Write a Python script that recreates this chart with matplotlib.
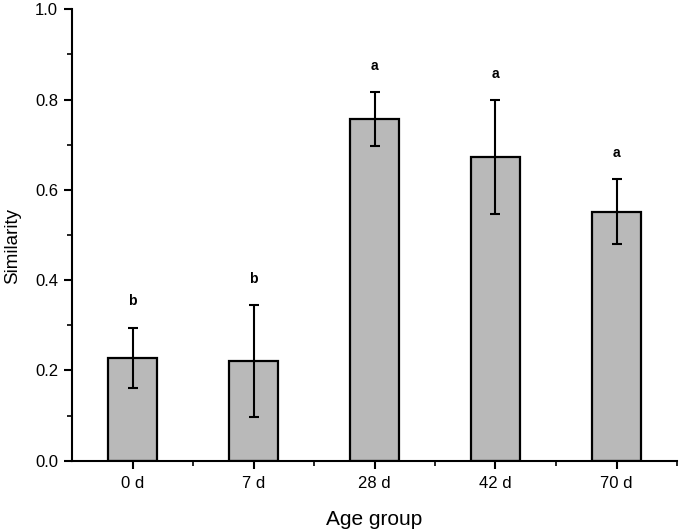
import matplotlib
matplotlib.use("Agg")
import matplotlib.pyplot as plt
from matplotlib.ticker import MultipleLocator, FixedLocator, FormatStrFormatter

plt.rcParams['font.family'] = ['Liberation Sans', 'DejaVu Sans']

categories = ['0 d', '7 d', '28 d', '42 d', '70 d']
means = [0.228, 0.220, 0.757, 0.672, 0.551]
errors = [0.067, 0.124, 0.059, 0.126, 0.072]
letters = ['b', 'b', 'a', 'a', 'a']

fig = plt.figure(figsize=(6.8, 5.3), dpi=100)
ax = fig.add_axes([72/680, 1-460.7/530, 605/680, 451.4/530])

x = list(range(len(categories)))
ax.bar(x, means, width=0.4, color='#b9b9b9', edgecolor='black', linewidth=1.6,
       yerr=errors, error_kw=dict(ecolor='black', elinewidth=1.5, capsize=3.8, capthick=1.5),
       zorder=2)
for xi, m, e, lab in zip(x, means, errors, letters):
    ax.text(xi, m + e + 0.058, lab, ha='center', va='center', fontsize=10, fontweight='bold')

ax.set_xlim(-0.5, 4.5)
ax.set_ylim(0, 1.0)
ax.set_xticks(x)
ax.set_xticklabels(categories)
ax.xaxis.set_minor_locator(FixedLocator([i + 0.5 for i in x]))
ax.yaxis.set_major_locator(MultipleLocator(0.2))
ax.yaxis.set_minor_locator(MultipleLocator(0.1))
ax.yaxis.set_major_formatter(FormatStrFormatter('%.1f'))

for s in ['top', 'right']:
    ax.spines[s].set_visible(False)
for s in ['left', 'bottom']:
    ax.spines[s].set_linewidth(1.5)
ax.tick_params(which='major', direction='out', length=6, width=1.5, labelsize=12)
ax.tick_params(which='minor', direction='out', length=3.5, width=1.2)
ax.tick_params(axis='x', pad=5)
ax.tick_params(axis='y', pad=4)

ax.set_xlabel('Age group', fontsize=15, labelpad=14)
ax.set_ylabel('Similarity', fontsize=13.5)
ax.yaxis.set_label_coords(-0.084, 0.476)

fig.savefig('out.png', dpi=100)
